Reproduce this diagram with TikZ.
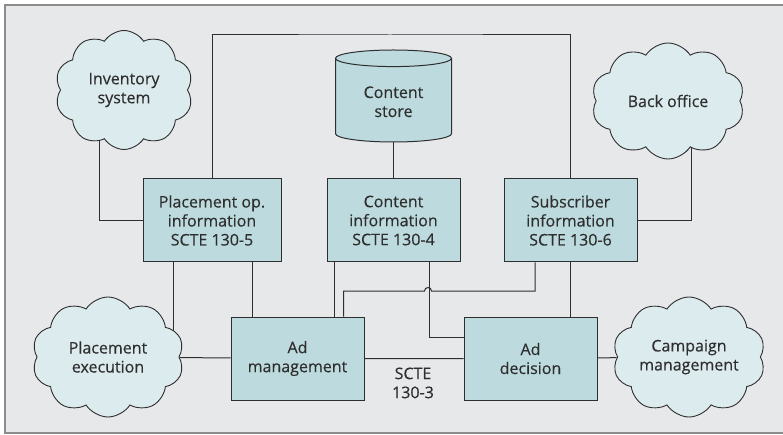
\documentclass[tikz,border=0pt]{standalone}
\usepackage{fontspec}
\setmainfont{Open Sans}
\newfontfamily\labelfont{Open Sans}[FakeBold=0.35]
\usetikzlibrary{positioning}
\usetikzlibrary{shapes.geometric,shapes.symbols}
\usetikzlibrary{backgrounds}

\definecolor{panel}{HTML}{E7E8EA}
\definecolor{rim}{HTML}{8C8C8C}
\definecolor{boxfill}{HTML}{BDDBDE}
\definecolor{cloudfill}{HTML}{DCEBEE}
\definecolor{wire}{HTML}{2E2E2E}

\tikzset{
  label text/.style={text=wire, font=\labelfont\fontsize{16}{19}\selectfont, align=center},
  block/.style={label text, draw=wire, line width=1pt, fill=boxfill,
    minimum width=133pt, minimum height=83pt, inner sep=2pt},
  svc/.style={label text, cloud, cloud puffs=10, cloud puff arc=115, cloud ignores aspect,
    draw=wire, line width=0.9pt, fill=cloudfill, minimum width=152pt, minimum height=120pt},
  db/.style={label text, cylinder, shape border rotate=90, aspect=0.25,
    draw=wire, line width=1pt, fill=boxfill, minimum width=116pt, minimum height=92pt},
  link/.style={draw=wire, line width=1pt},
}

\begin{document}
\begin{tikzpicture}[x=1pt, y=1pt]
    \useasboundingbox (0,0) rectangle (783,-435);

    % Interface blocks
    \node[block, minimum width=138pt] (place) at (212,-220.5) {Placement op.\\information\\SCTE 130-5};
    \node[block, right=45pt of place] (cinfo) {Content\\information\\SCTE 130-4};
    \node[block, right=43pt of cinfo] (sub) {Subscriber\\information\\SCTE 130-6};
    \node[db, above=36pt of cinfo] (store) {Content\\store};

    \node[block] (admgmt) at (297.5,-358.5) {Ad\\management};
    \node[block] (addec) at (530.5,-358.5) {Ad\\decision};
    \node[label text, anchor=north] (iface) at (413,-364) {SCTE\\130-3};

    % Outside systems
    \node[svc, minimum width=138pt, minimum height=119pt] (inv) at (124,-90) {Inventory\\system};
    \node[svc, minimum width=153pt, minimum height=116pt] (back) at (668,-101) {Back office};
    \node[svc] (pexec) at (108,-357) {Placement\\execution};
    \node[svc] (camp) at (689,-357) {Campaign\\management};

    \coordinate (topbus) at (390,-35);
    \coordinate (hop) at (428,-291);

    \begin{scope}[on background layer]
        \draw[draw=rim, line width=1.5pt, fill=panel] (5,-5) rectangle (800,-433);

        % Edges
        \draw[link] (place.north) |- (topbus) -| (sub.north);
        \draw[link] (store) -- (cinfo);
        \draw[link] (place.west) -| ([xshift=-25pt]inv.center);
        \draw[link] (sub.east) -| ([xshift=23pt]back.center);

        \draw[link] ([xshift=-39pt]place.south) |- (pexec.center);
        \draw[link] ([xshift=40pt]place.south) -- ([xshift=40pt]place.south |- admgmt.north);
        \draw[link] ([xshift=-59pt]cinfo.south) -- ([xshift=-59pt]cinfo.south |- admgmt.north);
        \draw[link] ([xshift=-35.5pt]sub.south) |- ([xshift=3.5pt]hop)
            arc[start angle=0, end angle=180, radius=3.5pt]
            -| ([xshift=-21pt]admgmt.north east);
        \draw[link] ([xshift=36pt]cinfo.south) |- ([yshift=21pt]addec.west);
        \draw[link] (sub.south) -- (sub.south |- addec.north);

        \draw[link] (pexec) -- (admgmt) -- (addec) -- (camp);
    \end{scope}
\end{tikzpicture}
\end{document}
